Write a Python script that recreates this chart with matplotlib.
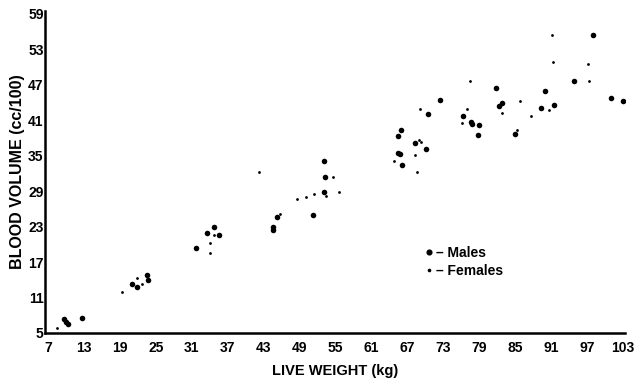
import matplotlib
matplotlib.use("Agg")
import matplotlib.pyplot as plt
from matplotlib.lines import Line2D

plt.rcParams['font.family'] = ['Liberation Sans', 'DejaVu Sans']

male_x = [9.7, 10.0, 10.3, 12.7, 21.0, 21.9, 23.5, 23.7, 31.7, 33.5, 34.7, 35.5,
          44.6, 44.6, 45.2, 51.2, 53.1, 53.2, 53.1, 65.4, 65.8, 66.1, 65.4, 65.9,
          68.3, 70.1, 70.4, 72.4, 76.3, 77.6, 77.8, 79.0, 78.8, 81.8, 82.3, 82.8,
          85.0, 89.3, 90.0, 91.5, 94.8, 98.0, 101.0, 103.0]
male_y = [7.3, 6.9, 6.6, 7.5, 13.3, 12.8, 14.8, 14.0, 19.4, 21.9, 22.9, 21.6,
          23.0, 22.4, 24.6, 25.0, 34.1, 31.4, 28.9, 35.5, 35.3, 33.4, 38.3, 39.3,
          37.1, 36.1, 42.1, 44.4, 41.7, 40.7, 40.3, 40.2, 38.5, 46.5, 43.4, 43.9,
          38.7, 43.1, 45.9, 43.6, 47.6, 55.4, 44.8, 44.3]

female_x = [8.5, 19.4, 21.9, 22.7, 34.0, 34.0, 34.7, 42.2, 45.7, 48.6, 50.1, 51.4,
            53.4, 54.6, 55.6, 64.8, 68.3, 68.6, 69.0, 69.3, 69.1, 77.0, 76.1, 77.4,
            82.8, 85.3, 85.8, 87.6, 90.6, 91.1, 91.3, 97.2, 97.3]
female_y = [5.8, 11.9, 14.3, 13.3, 20.2, 18.5, 21.6, 32.2, 25.1, 27.7, 28.0, 28.5,
            28.2, 31.4, 28.9, 34.1, 35.1, 32.2, 37.7, 37.3, 42.9, 42.9, 40.5, 47.6,
            42.2, 39.3, 44.3, 41.7, 42.7, 55.4, 50.9, 50.5, 47.6]

x_ticks = [7, 13, 19, 25, 31, 37, 43, 49, 55, 61, 67, 73, 79, 85, 91, 97, 103]
y_ticks = [5, 11, 17, 23, 29, 35, 41, 47, 53, 59]

fig = plt.figure(figsize=(6.37, 3.81), dpi=100)
ax = fig.add_axes([45/637, 48/381, 580/637, 322/381])

ax.scatter(male_x, male_y, s=16, color='black', linewidths=0, zorder=3)
ax.scatter(female_x, female_y, s=4, color='black', linewidths=0, zorder=3)

ax.set_xlim(6.5, 103.3)
ax.set_ylim(5, 59.5)
ax.set_xticks(x_ticks)
ax.set_yticks(y_ticks)
ax.set_xticklabels([str(v) for v in x_ticks], fontweight='bold', fontsize=10)
ax.set_yticklabels([str(v) for v in y_ticks], fontweight='bold', fontsize=10)
ax.tick_params(axis='both', length=0)
ax.tick_params(axis='x', pad=6)
ax.tick_params(axis='y', pad=1)

for s in ['top', 'right']:
    ax.spines[s].set_visible(False)
for s in ['left', 'bottom']:
    ax.spines[s].set_linewidth(1.8)

ax.set_xlabel('LIVE WEIGHT (kg)', fontweight='bold', fontsize=10.5, labelpad=6)
ax.set_ylabel('BLOOD VOLUME (cc/100)', fontweight='bold', fontsize=11.5, labelpad=2)

handles = [Line2D([], [], marker='o', linestyle='none', color='black', markersize=3.4),
           Line2D([], [], marker='o', linestyle='none', color='black', markersize=1.6)]
leg = ax.legend(handles, ['– Males', '– Females'], loc='upper left',
                bbox_to_anchor=(0.643, 0.293), frameon=False, handlelength=0.6,
                handletextpad=0.2, labelspacing=0.3, borderpad=0,
                prop={'weight': 'bold', 'size': 10})

fig.savefig('out.png', dpi=100)
